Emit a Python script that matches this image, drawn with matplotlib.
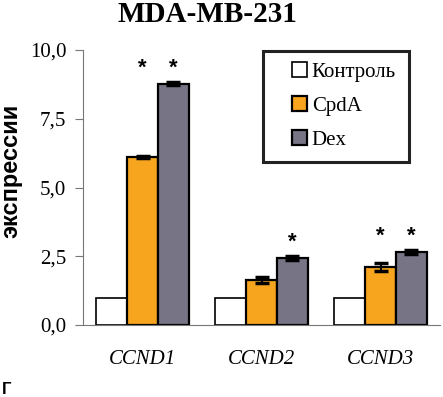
import numpy as np
import matplotlib
matplotlib.use("Agg")
import matplotlib.pyplot as plt
from matplotlib.patches import Rectangle

# Data
genes = ["CCND1", "CCND2", "CCND3"]
control = [1.0, 1.0, 1.0]
cpda = [6.1, 1.64, 2.1]
cpda_err = [0.04, 0.11, 0.15]
dex = [8.78, 2.44, 2.66]
dex_err = [0.07, 0.06, 0.06]
cpda_star = [True, False, True]
dex_star = [True, True, True]
yticks = [0.0, 2.5, 5.0, 7.5, 10.0]
ytick_labels = ["0,0", "2,5", "5,0", "7,5", "10,0"]

plt.rcParams['font.family'] = ['Liberation Serif', 'DejaVu Serif']

fig = plt.figure(figsize=(4.43, 3.97), dpi=100)
ax = fig.add_axes([83/443, 1-325/397, 357/443, 275/397])

x = np.arange(len(genes))
w = 0.26
orange = '#F7A51E'
grey = '#777585'

ax.bar(x - w, control, w, color='white', edgecolor='black', linewidth=1.2, label='Контроль')
ax.bar(x, cpda, w, color=orange, edgecolor='black', linewidth=1.6, label='CpdA')
ax.bar(x + w, dex, w, color=grey, edgecolor='black', linewidth=1.6, label='Dex')
ax.errorbar(x, cpda, yerr=cpda_err, fmt='none', ecolor='black', elinewidth=1.5, capsize=5, capthick=2.5)
ax.errorbar(x + w, dex, yerr=dex_err, fmt='none', ecolor='black', elinewidth=1.5, capsize=5, capthick=2.5)

# significance asterisks, one level per group
for i in range(len(genes)):
    top = max(cpda[i] + cpda_err[i], dex[i] + dex_err[i])
    if cpda_star[i]:
        ax.text(x[i], top + 0.5, '*', ha='center', va='center', fontsize=16,
                fontweight='bold', family=['Liberation Sans'])
    if dex_star[i]:
        ax.text(x[i] + w, top + 0.5, '*', ha='center', va='center', fontsize=16,
                fontweight='bold', family=['Liberation Sans'])

ax.set_xlim(-0.5, 2.5)
ax.set_ylim(0, 10)
ax.set_yticks(yticks)
ax.set_yticklabels(ytick_labels, fontsize=15)
ax.set_xticks(x)
ax.set_xticklabels(genes, fontsize=15, style='italic')
ax.tick_params(axis='x', length=0, pad=18)
ax.tick_params(axis='y', length=6, color='#777777', pad=6)
for s in ['top', 'right']:
    ax.spines[s].set_visible(False)
ax.spines['left'].set_color('#777777')
ax.spines['bottom'].set_color('#777777')

fig.text(11/443, 1-171/397, 'экспрессии', rotation=90, ha='center', va='center',
         fontsize=17, fontweight='bold', family=['Liberation Sans'])

# legend with a hand-drawn frame
leg = fig.legend(*ax.get_legend_handles_labels(), loc='upper left',
                 bbox_to_anchor=(292/443, 1-62/397), fontsize=15, frameon=False,
                 handlelength=0.7, handleheight=0.7, handletextpad=0.25,
                 labelspacing=0.7, borderpad=0, borderaxespad=0)
fig.patches.append(Rectangle((263/443, 1-162/397), 146/443, 111/397, transform=fig.transFigure,
                             fill=False, edgecolor='#222222', linewidth=2.2))

fig.text(207/443, 1-15/397, 'MDA-MB-231', ha='center', va='center', fontsize=21, fontweight='bold')
fig.text(2/443, 3/397, 'Г', ha='left', va='baseline', fontsize=12, fontweight='bold', family=['Liberation Sans'])

fig.savefig('out.png', dpi=100)
